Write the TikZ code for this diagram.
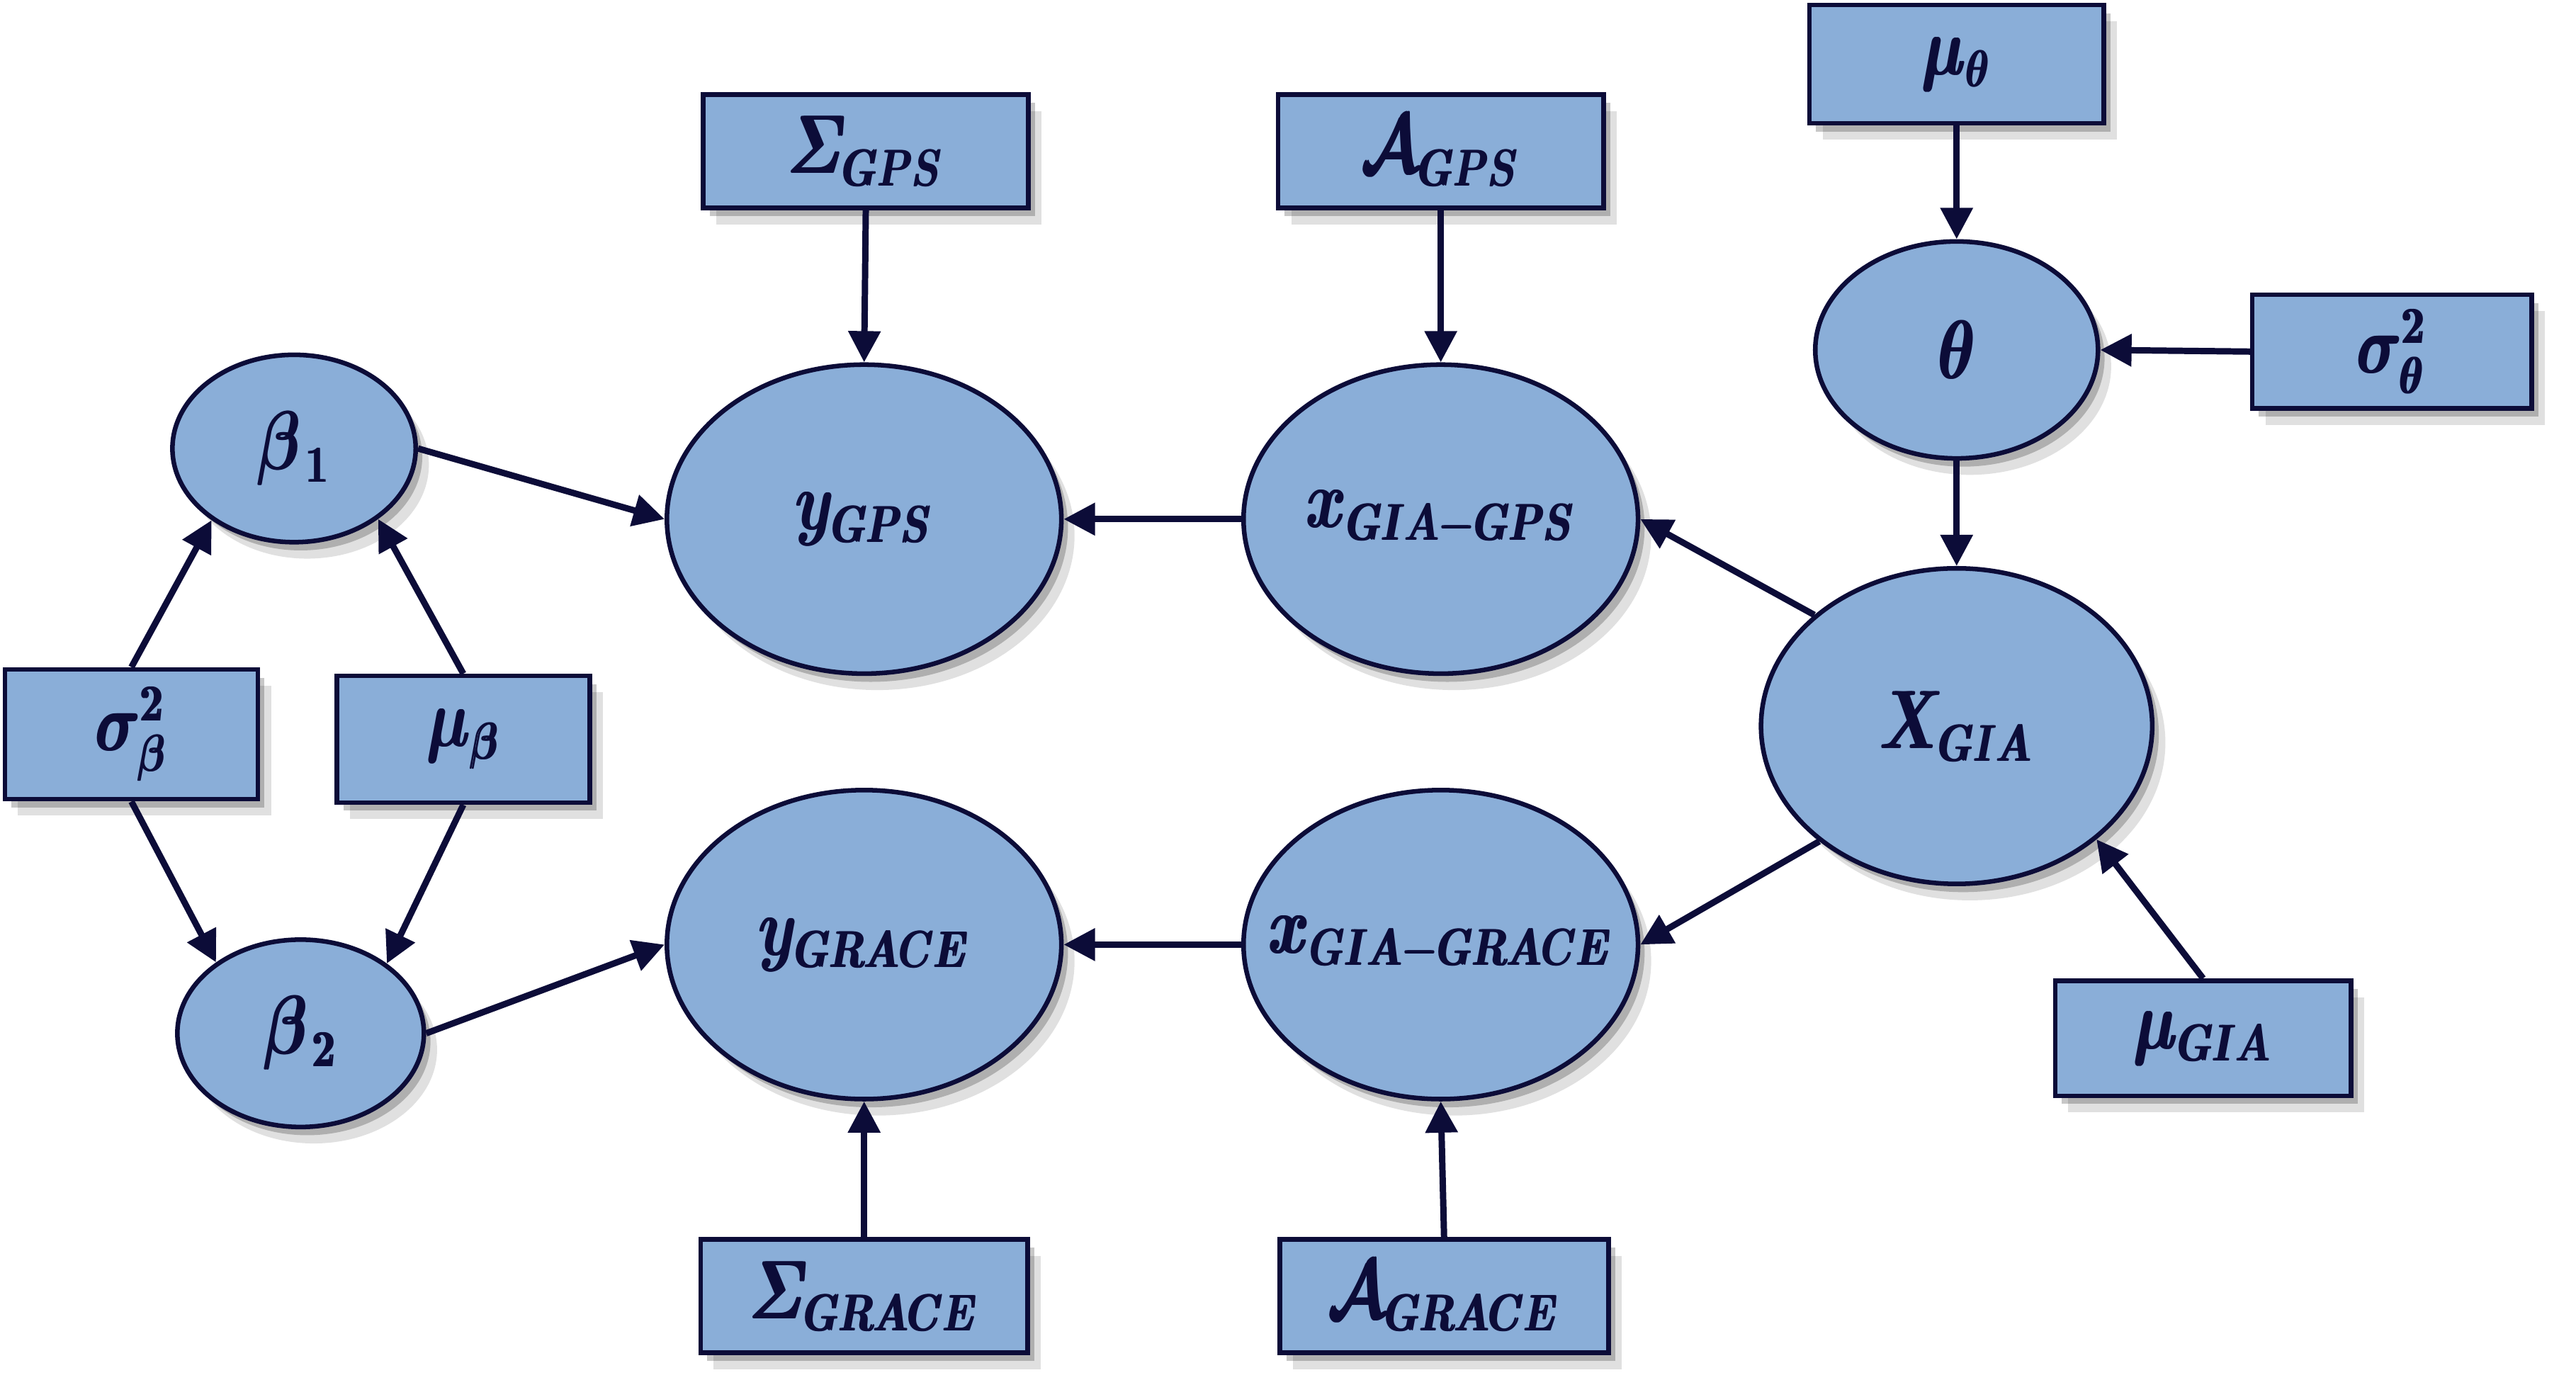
\documentclass[tikz,border=0pt]{standalone}
\usepackage{amsmath,bm}
\usepackage{graphicx}
\usetikzlibrary{shapes.geometric,arrows.meta,shadows}
\definecolor{nodeblue}{RGB}{138,174,216}
\definecolor{inkblue}{RGB}{12,12,56}
\DeclareMathSizes{15}{15}{8.8}{7}
% label: heavy bold math, narrowed, taking no room in the node
\newcommand{\lbl}[1]{\makebox[0pt]{\raisebox{-1.5pt}{\scalebox{0.74}[1]{\rlap{$\bm{#1}$}\hspace{0.45pt}$\bm{#1}$}}}}

\begin{document}
\begin{tikzpicture}[x=0.01cm,y=-0.01cm,
    every node/.style={text=inkblue,font=\fontsize{15}{18}\selectfont},
    shade/.style={drop shadow={shadow xshift=0.04cm,shadow yshift=-0.05cm,fill=black,opacity=0.22},
      drop shadow={shadow xshift=0.08cm,shadow yshift=-0.1cm,fill=black,opacity=0.12}},
    rv/.style={ellipse,draw=inkblue,fill=nodeblue,line width=0.8pt,inner sep=0pt,shade},
    hyp/.style={rectangle,draw=inkblue,fill=nodeblue,line width=0.8pt,inner sep=0pt,shade},
    dep/.style={draw=inkblue,line width=1.1pt,-{Triangle[length=0.19cm,width=0.19cm]}}]
  \useasboundingbox (0,0) rectangle (1568,850);
  % boxes (fixed parameters)
  \node[hyp,minimum width=1.98cm,minimum height=0.69cm] (sgps) at (527,92) {\lbl{\varSigma_{GPS}}};
  \node[hyp,minimum width=1.98cm,minimum height=0.69cm] (agps) at (877,92) {\lbl{\mathcal{A}_{GPS}}};
  \node[hyp,minimum width=1.79cm,minimum height=0.72cm] (mth) at (1191,39) {\lbl{\mu_{\theta}}};
  \node[hyp,minimum width=1.70cm,minimum height=0.69cm] (sth) at (1456,214) {\lbl{\sigma^2_{\theta}}};
  \node[hyp,minimum width=1.54cm,minimum height=0.79cm] (sb) at (80,447) {\lbl{\sigma^2_{\beta}}};
  \node[hyp,minimum width=1.54cm,minimum height=0.77cm] (mb) at (282,450) {\lbl{\mu_{\beta}}};
  \node[hyp,minimum width=1.80cm,minimum height=0.70cm] (mgia) at (1341,632) {\lbl{\mu_{GIA}}};
  \node[hyp,minimum width=1.99cm,minimum height=0.69cm] (sgrace) at (526,789) {\lbl{\varSigma_{GRACE}}};
  \node[hyp,minimum width=2.00cm,minimum height=0.69cm] (agrace) at (879,789) {\lbl{\mathcal{A}_{GRACE}}};
  % ellipses (random variables)
  \node[rv,minimum width=1.48cm,minimum height=1.14cm] (b1) at (179,273) {\lbl{\beta_{\,1}}};
  \node[rv,minimum width=1.50cm,minimum height=1.14cm] (b2) at (183,629) {\lbl{\beta_{\,2}}};
  \node[rv,minimum width=2.40cm,minimum height=1.88cm] (ygps) at (526,316) {\lbl{y_{GPS}}};
  \node[rv,minimum width=2.40cm,minimum height=1.88cm] (ygrace) at (526,575) {\lbl{y_{GRACE}}};
  \node[rv,minimum width=2.40cm,minimum height=1.88cm] (xgps) at (877,316) {\lbl{x_{GIA-GPS}}};
  \node[rv,minimum width=2.40cm,minimum height=1.88cm] (xgrace) at (877,575) {\lbl{x_{GIA-GRACE}}};
  \node[rv,minimum width=1.72cm,minimum height=1.32cm] (th) at (1191,213) {\lbl{\theta}};
  \node[rv,minimum width=2.38cm,minimum height=1.92cm] (xgia) at (1191,442) {\lbl{X_{GIA}}};
  % arrows
  \draw[dep] (sgps.south) -- (ygps.north);
  \draw[dep] (agps.south) -- (xgps.north);
  \draw[dep] (sgrace.north) -- (ygrace.south);
  \draw[dep] (agrace.north) -- (xgrace.south);
  \draw[dep] (mth.south) -- (th.north);
  \draw[dep] (th.south) -- (xgia.north);
  \draw[dep] (sth.west) -- (th.east);
  \draw[dep] (xgps.west) -- (ygps.east);
  \draw[dep] (xgrace.west) -- (ygrace.east);
  \draw[dep] (b1.east) -- (ygps.west);
  \draw[dep] (b2.east) -- (ygrace.west);
  \draw[dep] (sb.north) -- (b1.221);
  \draw[dep] (mb.north) -- (b1.320);
  \draw[dep] (sb.south) -- (b2.140);
  \draw[dep] (mb.south) -- (b2.39);
  \draw[dep] (xgia.142) -- (xgps.east);
  \draw[dep] (xgia.220) -- (xgrace.east);
  \draw[dep] (mgia.north) -- (xgia.321);
\end{tikzpicture}
\end{document}
